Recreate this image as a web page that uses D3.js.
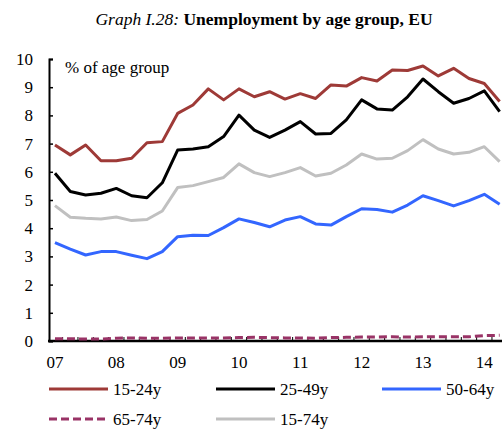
<!DOCTYPE html>
<html lang="en">
<head>
  <meta charset="UTF-8">
  <title>Unemployment by age group, EU</title>
  <script src="https://cdn.jsdelivr.net/npm/d3@7"></script>
  <style>
    body { margin: 0; background: #fff; }
    svg text { font-family: "Liberation Serif", "Times New Roman", serif; fill: #000; }
  </style>
</head>
<body>
<script>
  // quarterly, 2007Q1 .. 2014Q2
  const quarters = [
    "07Q1", "07Q2", "07Q3", "07Q4", "08Q1", "08Q2", "08Q3", "08Q4",
    "09Q1", "09Q2", "09Q3", "09Q4", "10Q1", "10Q2", "10Q3", "10Q4",
    "11Q1", "11Q2", "11Q3", "11Q4", "12Q1", "12Q2", "12Q3", "12Q4",
    "13Q1", "13Q2", "13Q3", "13Q4", "14Q1", "14Q2"
  ];
  const yearTicks = ["07Q1", "08Q1", "09Q1", "10Q1", "11Q1", "12Q1", "13Q1", "14Q1"];
  const yearLabels = ["07", "08", "09", "10", "11", "12", "13", "14"];
  const yTicks = [0, 1, 2, 3, 4, 5, 6, 7, 8, 9, 10];

  const age15_24 = [6.95, 6.60, 6.95, 6.39, 6.39, 6.48, 7.03, 7.07, 8.07, 8.37, 8.94, 8.55, 8.94, 8.66, 8.84,
                    8.58, 8.77, 8.60, 9.08, 9.04, 9.34, 9.22, 9.61, 9.59, 9.75, 9.40, 9.67, 9.31, 9.13, 8.49];
  const age25_49 = [5.95, 5.30, 5.18, 5.24, 5.41, 5.15, 5.08, 5.61, 6.77, 6.81, 6.89, 7.25, 8.01, 7.48, 7.22,
                    7.48, 7.78, 7.34, 7.36, 7.84, 8.55, 8.23, 8.19, 8.66, 9.29, 8.84, 8.43, 8.60, 8.87, 8.13];
  const age50_64 = [3.49, 3.26, 3.05, 3.17, 3.17, 3.04, 2.92, 3.17, 3.70, 3.75, 3.74, 4.02, 4.33, 4.20, 4.05,
                    4.29, 4.41, 4.15, 4.11, 4.41, 4.69, 4.66, 4.57, 4.82, 5.15, 4.98, 4.79, 4.98, 5.20, 4.85];
  const age65_74 = [0.08, 0.08, 0.07, 0.07, 0.10, 0.11, 0.10, 0.10, 0.11, 0.11, 0.11, 0.11, 0.12, 0.13, 0.12,
                    0.11, 0.11, 0.10, 0.12, 0.13, 0.14, 0.14, 0.15, 0.14, 0.15, 0.15, 0.15, 0.15, 0.19, 0.20];
  const age15_74 = [4.80, 4.39, 4.35, 4.33, 4.40, 4.27, 4.31, 4.61, 5.44, 5.51, 5.65, 5.80, 6.28, 5.97, 5.83,
                    5.97, 6.15, 5.85, 5.95, 6.24, 6.63, 6.45, 6.48, 6.75, 7.14, 6.81, 6.63, 6.69, 6.89, 6.36];

  const seriesNames = ["15-24y", "25-49y", "50-64y", "65-74y", "15-74y"];
  const seriesValues = [age15_24, age25_49, age50_64, age65_74, age15_74];
  const seriesColors = ["#9e3a37", "#000000", "#3366ff", "#993366", "#c0c0c0"];

  const W = 502, H = 430;
  const svg = d3.select("body").append("svg")
    .attr("width", W)
    .attr("height", H);

  // title
  const title = svg.append("text")
    .attr("x", 264)
    .attr("y", 25)
    .attr("text-anchor", "middle")
    .style("font-size", "17.5px");
  title.append("tspan").style("font-style", "italic").text("Graph I.28: ");
  title.append("tspan").style("font-weight", "bold").text("Unemployment by age group, EU");

  const axisY = 341, axisX = 49;

  const x = d3.scaleBand()
    .domain(quarters)
    .range([47.3, 507.3]);
  const cx = d => x(d) + x.bandwidth() / 2;

  const y = d3.scaleLinear()
    .domain([0, 10])
    .range([axisY, 59]);

  // y axis
  const gy = svg.append("g")
    .attr("transform", `translate(${axisX},0)`)
    .call(d3.axisLeft(y).tickValues(yTicks).tickSize(-4).tickPadding(16).tickFormat(d3.format("d")));
  gy.select(".domain").attr("stroke-width", 2);
  gy.selectAll(".tick line").attr("stroke-width", 1.5);
  gy.selectAll("text").style("font-size", "17px").style("font-family", "Liberation Serif");

  // x axis labels
  const gx = svg.append("g")
    .attr("transform", `translate(0,${axisY})`)
    .call(d3.axisBottom(x).tickValues(yearTicks).tickSize(0).tickPadding(15)
      .tickFormat(d => yearLabels[yearTicks.indexOf(d)]));
  gx.select(".domain").remove();
  gx.selectAll("text").style("font-size", "17px").style("font-family", "Liberation Serif");

  // tick marks between quarters, pointing up
  svg.append("g").selectAll("line")
    .data(quarters.slice(1))
    .join("line")
    .attr("x1", d => x(d)).attr("x2", d => x(d))
    .attr("y1", axisY).attr("y2", axisY - 4)
    .attr("stroke", "#000")
    .attr("stroke-width", 1);

  svg.append("line")
    .attr("x1", axisX - 1).attr("x2", W)
    .attr("y1", axisY).attr("y2", axisY)
    .attr("stroke", "#000")
    .attr("stroke-width", 2.5);

  svg.append("text")
    .attr("x", 65)
    .attr("y", 73)
    .style("font-size", "17px")
    .text("% of age group");

  const line = d3.line()
    .x((d, i) => cx(quarters[i]))
    .y(d => y(d));

  // draw order: grey behind, then others
  const order = [4, 3, 2, 1, 0];
  svg.append("g").selectAll("path")
    .data(order)
    .join("path")
    .attr("d", k => line(seriesValues[k]))
    .attr("fill", "none")
    .attr("stroke", k => seriesColors[k])
    .attr("stroke-width", 3)
    .attr("stroke-linejoin", "round")
    .attr("stroke-dasharray", k => k === 3 ? "8,4" : null);

  // legend
  const legendPos = [
    { lx: 49, ly: 389 }, { lx: 216, ly: 389 }, { lx: 382, ly: 389 },
    { lx: 49, ly: 419 }, { lx: 216, ly: 419 }
  ];
  const lg = svg.append("g").selectAll("g")
    .data(seriesNames)
    .join("g")
    .attr("transform", (d, i) => `translate(${legendPos[i].lx},${legendPos[i].ly})`);
  lg.append("line")
    .attr("x1", 0).attr("x2", 59)
    .attr("y1", 0).attr("y2", 0)
    .attr("stroke", (d, i) => seriesColors[i])
    .attr("stroke-width", 3)
    .attr("stroke-dasharray", (d, i) => i === 3 ? "8,4" : null);
  lg.append("text")
    .attr("x", 64)
    .attr("y", 6)
    .style("font-size", "17px")
    .text(d => d);
</script>
</body>
</html>
